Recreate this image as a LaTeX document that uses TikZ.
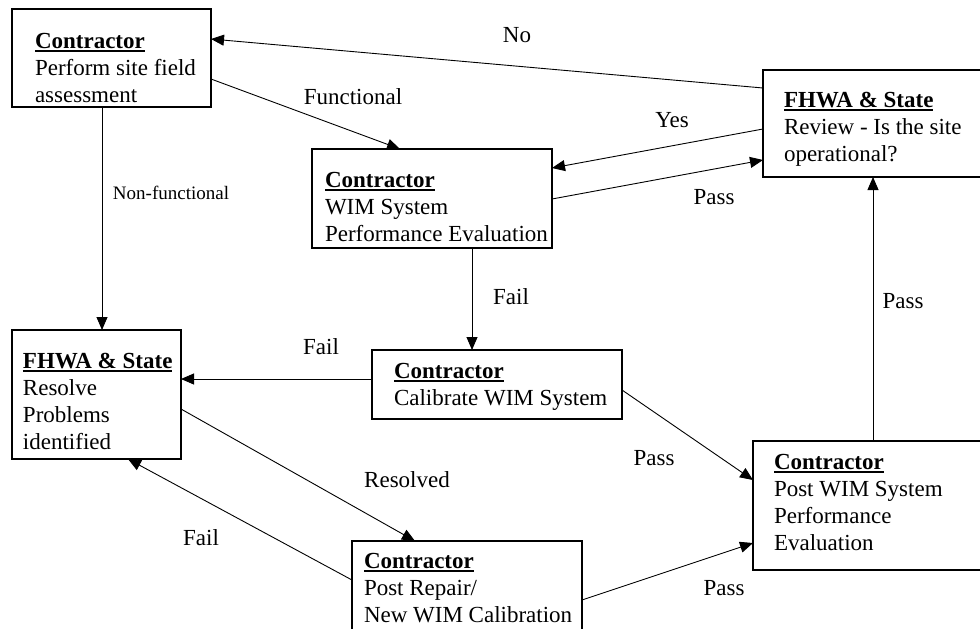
\documentclass[tikz,border=0pt]{standalone}
\usepackage{fontspec}
\setmainfont{Liberation Serif}
\usetikzlibrary{arrows.meta}
\newsavebox{\myheadbox}
\newcommand{\myhead}[1]{\sbox{\myheadbox}{\textbf{#1}}\rlap{\rule[-4pt]{\wd\myheadbox}{1.8pt}}\usebox{\myheadbox}}
\begin{document}
\begin{tikzpicture}[x=1pt,y=-1pt,
  box/.style={draw=black, line width=1.3pt, inner sep=0pt, outer sep=0pt, anchor=north west},
  txt/.style={inner sep=0pt, outer sep=0pt, anchor=base west, align=left, font=\fontsize{23}{27}\selectfont},
  lbl/.style={inner sep=0pt, font=\fontsize{23}{27}\selectfont},
  slbl/.style={inner sep=0pt, font=\fontsize{19}{23}\selectfont},
  conn/.style={draw=black, line width=0.9pt, -{Triangle[length=13pt,width=11pt]}}]
\useasboundingbox (0,0) rectangle (980,629);
\clip (0,0) rectangle (980,629);
\fill[white] (0,0) rectangle (980,629);
% boxes
\node[box, minimum width=199pt, minimum height=98pt] (b1) at (12,9) {};
\node[box, minimum width=240pt, minimum height=99pt] (b2) at (312,149) {};
\node[box, minimum width=237pt, minimum height=107pt] (b3) at (763,70) {};
\node[box, minimum width=169pt, minimum height=129pt] (b4) at (12,330) {};
\node[box, minimum width=250pt, minimum height=69pt] (b5) at (372,350) {};
\node[box, minimum width=247pt, minimum height=129pt] (b6) at (753,441) {};
\node[box, minimum width=230pt, minimum height=120pt] (b7) at (352,541) {};
% texts (anchor = baseline of the last line)
\node[txt] (t1) at (35,102) {\myhead{Contractor}\\Perform site field\\assessment};
\node[txt] (t2) at (325,241) {\myhead{Contractor}\\WIM System\\Performance Evaluation};
\node[txt] (t3) at (784,161) {\myhead{FHWA \& State}\\Review - Is the site\\operational?};
\node[txt] (t4) at (23,449) {\myhead{FHWA \& State}\\Resolve\\Problems\\identified};
\node[txt] (t5) at (394,405) {\myhead{Contractor}\\Calibrate WIM System};
\node[txt] (t6) at (774,550) {\myhead{Contractor}\\Post WIM System\\Performance\\Evaluation};
\node[txt] (t7) at (364,622) {\myhead{Contractor}\\Post Repair/\\New WIM Calibration};
% connectors
\draw[conn] ([yshift=-18pt]b3.north west) -- ([yshift=-30pt]b1.north east);
\draw[conn] ([yshift=-70pt]b1.north east) -- ([xshift=88pt]b2.north west);
\draw[conn] ([xshift=90pt]b1.south west) -- ([xshift=90pt]b4.north west);
\draw[conn] ([yshift=-59pt]b3.north west) -- ([yshift=-19pt]b2.north east);
\draw[conn] ([yshift=-50pt]b2.north east) -- ([yshift=-90pt]b3.north west);
\draw[conn] ([xshift=160pt]b2.south west) -- ([xshift=100pt]b5.north west);
\draw[conn] ([yshift=-29pt]b5.north west) -- ([yshift=-49pt]b4.north east);
\draw[conn] ([yshift=-40pt]b5.north east) -- ([yshift=-39pt]b6.north west);
\draw[conn] ([yshift=-79pt]b4.north east) -- ([xshift=63pt]b7.north west);
\draw[conn] ([yshift=-39pt]b7.north west) -- ([xshift=116pt]b4.south west);
\draw[conn] ([yshift=-59pt]b7.north east) -- ([yshift=-102pt]b6.north west);
\draw[conn] ([xshift=120pt]b6.north west) -- ([xshift=110pt]b3.south west);
% labels
\node[lbl] (l1) at (517,35) {No};
\node[lbl] (l2) at (353,97) {Functional};
\node[slbl] (l3) at (171,193) {Non-functional};
\node[lbl] (l4) at (672,120) {Yes};
\node[lbl] (l5) at (714,197) {Pass};
\node[lbl] (l6) at (511,297) {Fail};
\node[lbl] (l7) at (321,347) {Fail};
\node[lbl] (l8) at (654,458) {Pass};
\node[lbl] (l9) at (407,480) {Resolved};
\node[lbl] (l10) at (201,538) {Fail};
\node[lbl] (l11) at (724,588) {Pass};
\node[lbl] (l12) at (903,301) {Pass};
\end{tikzpicture}
\end{document}
